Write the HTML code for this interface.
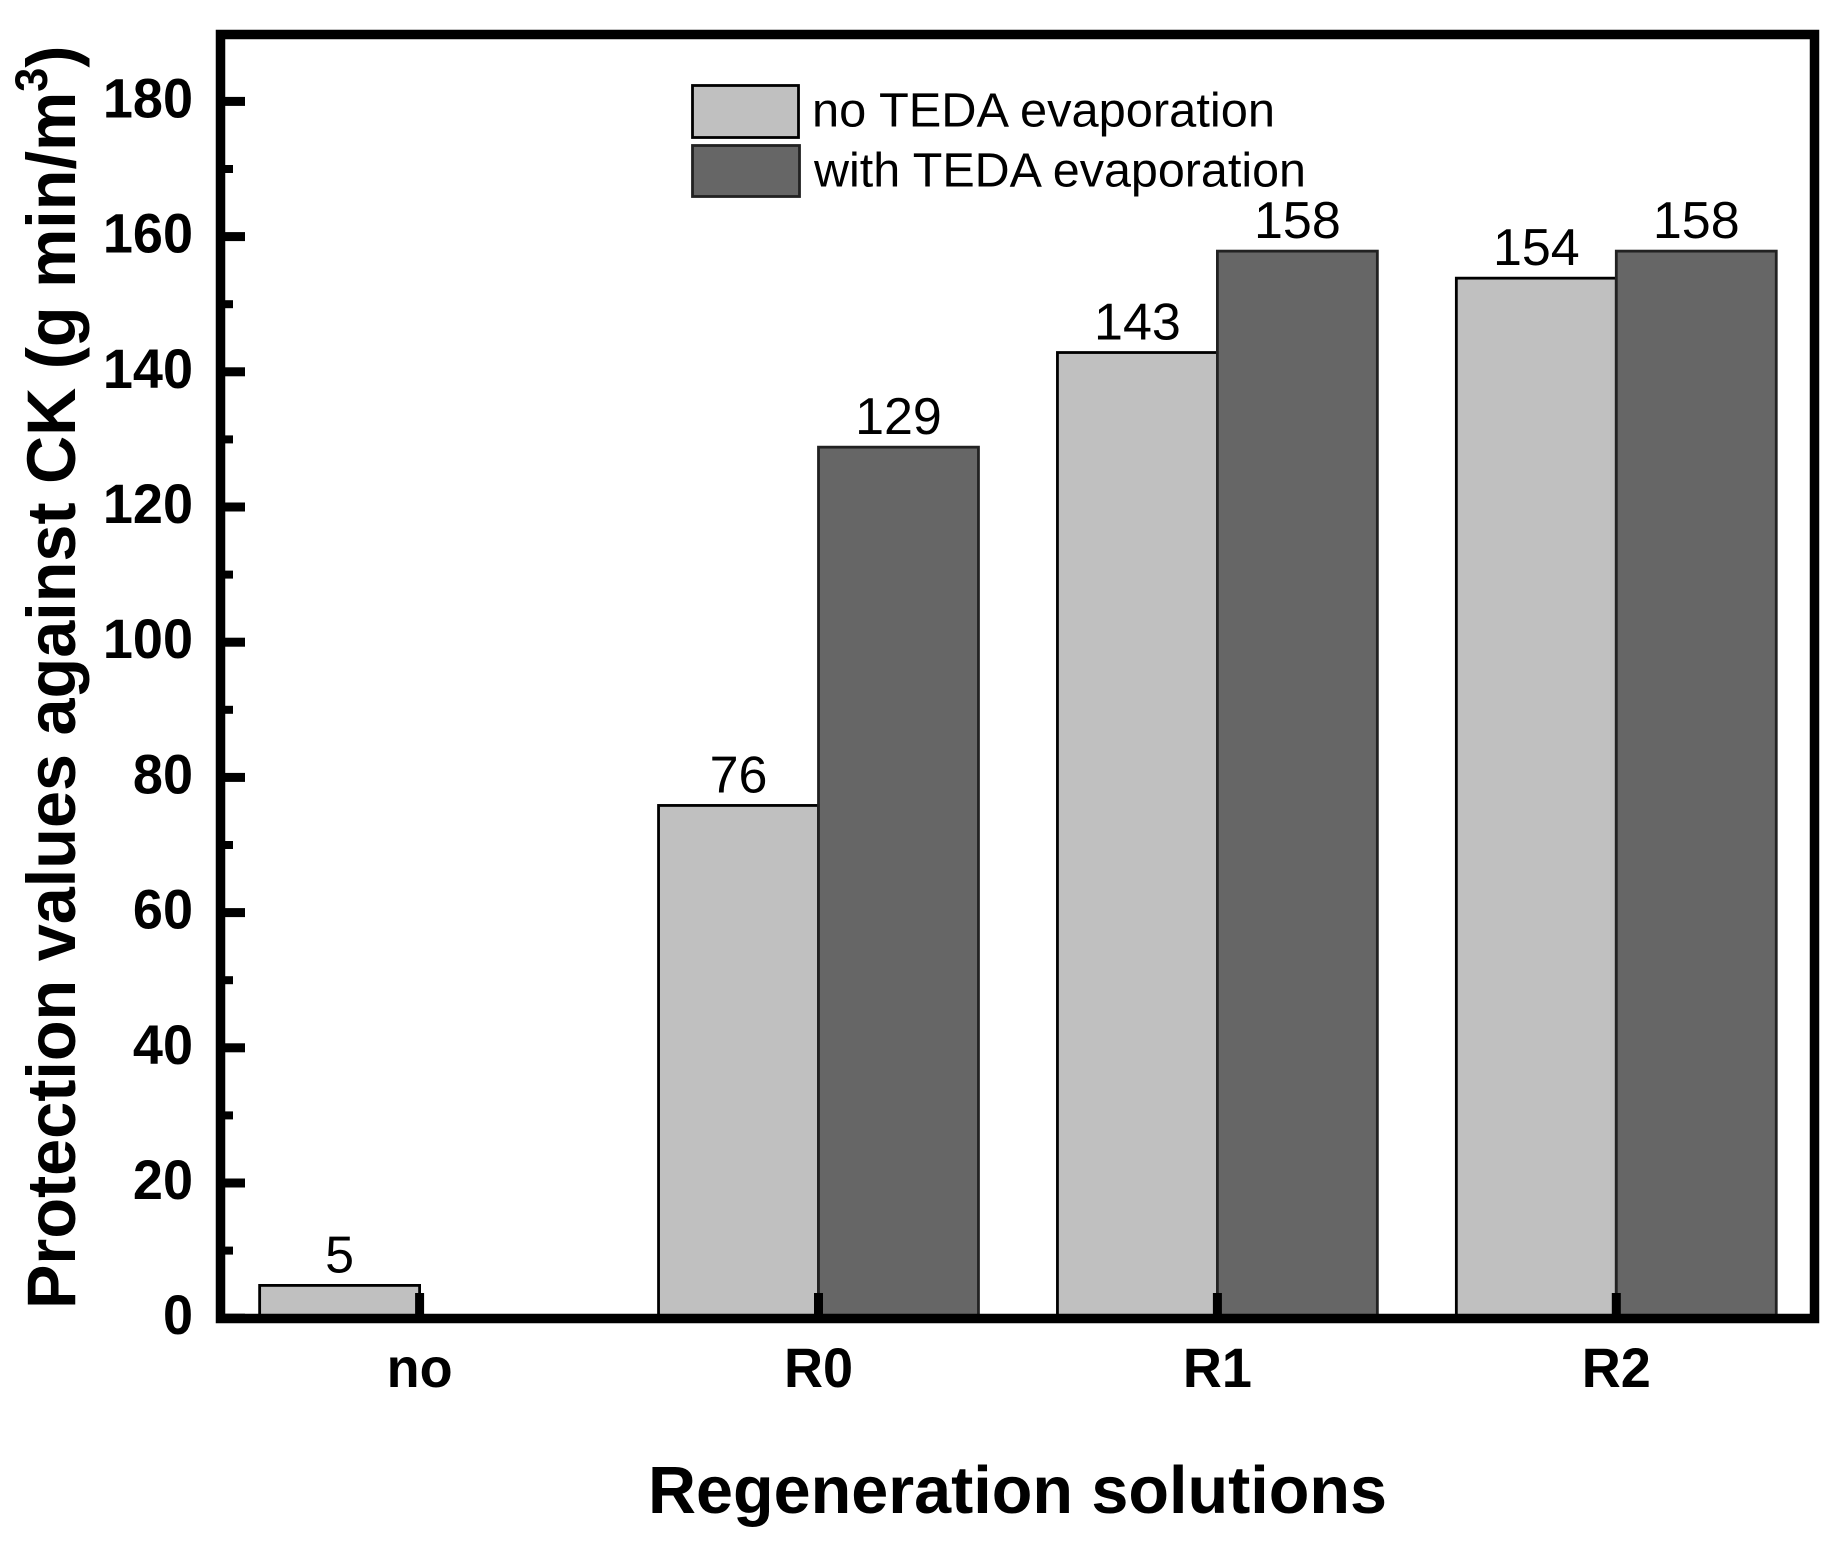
<!DOCTYPE html>
<html lang="en">
<head>
<meta charset="utf-8">
<title>Protection values against CK</title>
<style>
  html, body { margin: 0; padding: 0; background: #fff; }
  svg { display: block; }
  text { font-family: "Liberation Sans", Arial, sans-serif; fill: #000; }
  .bold { font-weight: 700; }
</style>
</head>
<body>
<svg id="chart" xmlns="http://www.w3.org/2000/svg" width="1847" height="1556" viewBox="0 0 1847 1556">
  <rect x="0" y="0" width="1847" height="1556" fill="#ffffff"/>
  <g id="bars"></g>
  <g id="value-labels"></g>
  <g id="ticks"></g>
  <rect x="220.5" y="34.5" width="1594" height="1284" fill="none" stroke="#000" stroke-width="9.5"/>
  <g id="tick-labels"></g>

  <text class="bold" transform="translate(75,1309) rotate(-90) scale(0.965,1)" font-size="69">Protection values against CK (g min/m<tspan font-size="45" dy="-28">3</tspan><tspan dy="28">)</tspan></text>
  <text class="bold" x="648" y="1513" font-size="67" textLength="739" lengthAdjust="spacingAndGlyphs">Regeneration solutions</text>

  <g>
    <rect x="692.5" y="85.5" width="106" height="52" fill="#c0c0c0" stroke="#000" stroke-width="2.8"/>
    <text x="812" y="126.7" font-size="48" textLength="463" lengthAdjust="spacingAndGlyphs">no TEDA evaporation</text>
    <rect x="692.5" y="145.5" width="107" height="51" fill="#666666" stroke="#222" stroke-width="2.8"/>
    <text x="814" y="186.7" font-size="48" textLength="492" lengthAdjust="spacingAndGlyphs">with TEDA evaporation</text>
  </g>
</svg>
<script>
const categories = ['no', 'R0', 'R1', 'R2'];
const noTedaValues = [5, 76, 143, 154];
const withTedaValues = [null, 129, 158, 158];
const majorTicks = [0, 20, 40, 60, 80, 100, 120, 140, 160, 180];
const minorTicks = [10, 30, 50, 70, 90, 110, 130, 150, 170];

const SVG_NS = 'http://www.w3.org/2000/svg';
const xScale = function (i) { return 419.6 + 398.9 * i; };
const yScale = function (v) { return 1318.2 - 6.76 * v; };
const barSpan = xScale(0.401) - xScale(0);
const barOffset = 1;

function make(tag, parent, attrs, text) {
  const el = document.createElementNS(SVG_NS, tag);
  Object.keys(attrs).forEach(function (k) { el.setAttribute(k, attrs[k]); });
  if (text !== undefined) el.textContent = text;
  parent.appendChild(el);
  return el;
}

function squeeze(label, ratio) {
  label.setAttribute('textLength', label.getComputedTextLength() * ratio);
  label.setAttribute('lengthAdjust', 'spacingAndGlyphs');
}

const barsGroup = document.getElementById('bars');
const valuesGroup = document.getElementById('value-labels');
const ticksGroup = document.getElementById('ticks');
const labelsGroup = document.getElementById('tick-labels');

function drawSeries(values, side, fill, stroke, seriesName) {
  values.forEach(function (v, i) {
    if (v === null) return;
    const left = side < 0 ? xScale(i) - barSpan : xScale(i);
    const top = yScale(v) + barOffset;
    const bar = make('rect', barsGroup, {
      x: left, y: top, width: barSpan, height: yScale(0) - top,
      fill: fill, stroke: stroke, 'stroke-width': 2.8
    });
    
    
    const label = make('text', valuesGroup, {
      x: left + barSpan / 2, y: top - 13, 'font-size': 52, 'text-anchor': 'middle'
    }, String(v));
    
    
    squeeze(label, 1);
  });
}

drawSeries(noTedaValues, -1, '#c0c0c0', '#000', 'no-teda');
drawSeries(withTedaValues, 1, '#666666', '#222', 'with-teda');

majorTicks.forEach(function (v) {
  const tick = make('rect', ticksGroup, { x: 220, y: yScale(v) - 4.5, width: 25, height: 9, fill: '#000' });
  
  
  const label = make('text', labelsGroup, {
    x: 193, y: yScale(v) + 16, 'font-size': 56, 'font-weight': 700, 'text-anchor': 'end'
  }, String(v));
  
  
  squeeze(label, 54 / 56);
});

minorTicks.forEach(function (v) {
  const tick = make('rect', ticksGroup, { x: 220, y: yScale(v) - 4, width: 13, height: 8, fill: '#000' });
  
  
});

categories.forEach(function (c, i) {
  const tick = make('rect', ticksGroup, { x: xScale(i) - 4.5, y: 1293, width: 9, height: 25, fill: '#000' });
  
  
  const label = make('text', labelsGroup, {
    x: xScale(i), y: 1387, 'font-size': 56, 'font-weight': 700, 'text-anchor': 'middle'
  }, c);
  
  
  squeeze(label, 54 / 56);
});
</script>
</body>
</html>
